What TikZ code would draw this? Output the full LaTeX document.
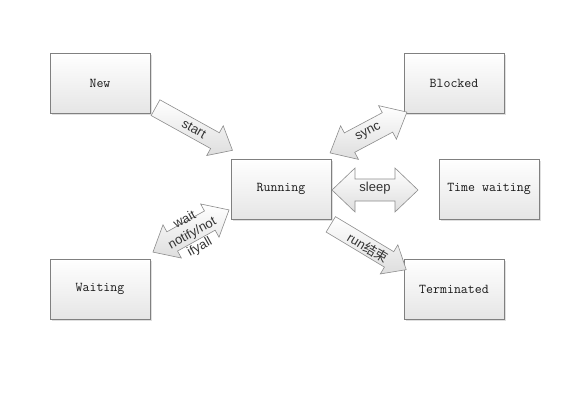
\documentclass[tikz,border=0pt]{standalone}
\usepackage{fontspec}
\setmainfont{Liberation Sans}
\newfontfamily\boxfont{Latin Modern Mono}
\newfontfamily\cjk{Noto Sans CJK SC}
\usetikzlibrary{shadows}
\begin{document}
\begin{tikzpicture}[x=1pt,y=-1pt,
  box/.style={draw=black!50, line width=0.7pt, top color=white, bottom color=black!10,
    minimum width=100pt, minimum height=60pt, inner sep=0pt,
    font=\boxfont\fontsize{13.5}{15}\selectfont, text=black!90,
    drop shadow={shadow xshift=1.5pt, shadow yshift=-1.5pt, opacity=0.25}},
  blk/.style={draw=black!45, line width=0.6pt, top color=white, bottom color=black!13, line join=miter},
  lbl/.style={font=\fontsize{13}{16}\selectfont, text=black!80, inner sep=0pt, align=center}]
\useasboundingbox (0,0) rectangle (580,408);

% boxes
\node[box] (new) at (100,83) {New};
\node[box] (blocked) at (454,83) {Blocked};
\node[box] (running) at (281,189) {Running};
\node[box] (timewait) at (489,189) {Time waiting};
\node[box] (waiting) at (100,289) {Waiting};
\node[box] (term) at (454,289) {Terminated};

% start (single arrow)
\begin{scope}[shift={(194,129)}, rotate=-29]
  \draw[blk] (-44,-9) -- (24,-9) -- (24,-17) -- (44,0) -- (24,17) -- (24,9) -- (-44,9) -- cycle;
  \node[lbl, rotate=-29] (startlbl) at (0,0) {start};
\end{scope}

% run end (single arrow)
\begin{scope}[shift={(368.5,247)}, rotate=-31]
  \draw[blk] (-44,-9) -- (24,-9) -- (24,-17) -- (44,0) -- (24,17) -- (24,9) -- (-44,9) -- cycle;
  \node[lbl, rotate=-31] (runlbl) at (0,1) {run{\cjk 结束}};
\end{scope}

% sync (double arrow)
\begin{scope}[shift={(368.5,132.5)}, rotate=28]
  \draw[blk] (-43.5,0) -- (-21.5,-19) -- (-21.5,-11) -- (21.5,-11) -- (21.5,-19) -- (43.5,0)
    -- (21.5,19) -- (21.5,11) -- (-21.5,11) -- (-21.5,19) -- cycle;
  \node[lbl, rotate=28] (synclbl) at (0,0) {sync};
\end{scope}

% sleep (double arrow)
\begin{scope}[shift={(375,190)}]
  \draw[blk] (-43,0) -- (-20,-22) -- (-20,-11) -- (20,-11) -- (20,-22) -- (43,0)
    -- (20,22) -- (20,11) -- (-20,11) -- (-20,22) -- cycle;
  \node[lbl] (sleeplbl) at (0,-2) {sleep};
\end{scope}

% wait / notify (double arrow)
\begin{scope}[shift={(191,231)}, rotate=29]
  \draw[blk] (-43.5,0) -- (-21.5,-19) -- (-21.5,-11) -- (21.5,-11) -- (21.5,-19) -- (43.5,0)
    -- (21.5,19) -- (21.5,11) -- (-21.5,11) -- (-21.5,19) -- cycle;
  \node[lbl, rotate=29, font=\fontsize{13}{15.5}\selectfont] (waitlbl) at (0,3) {wait\\notify/not\\ifyall};
\end{scope}
\end{tikzpicture}
\end{document}
